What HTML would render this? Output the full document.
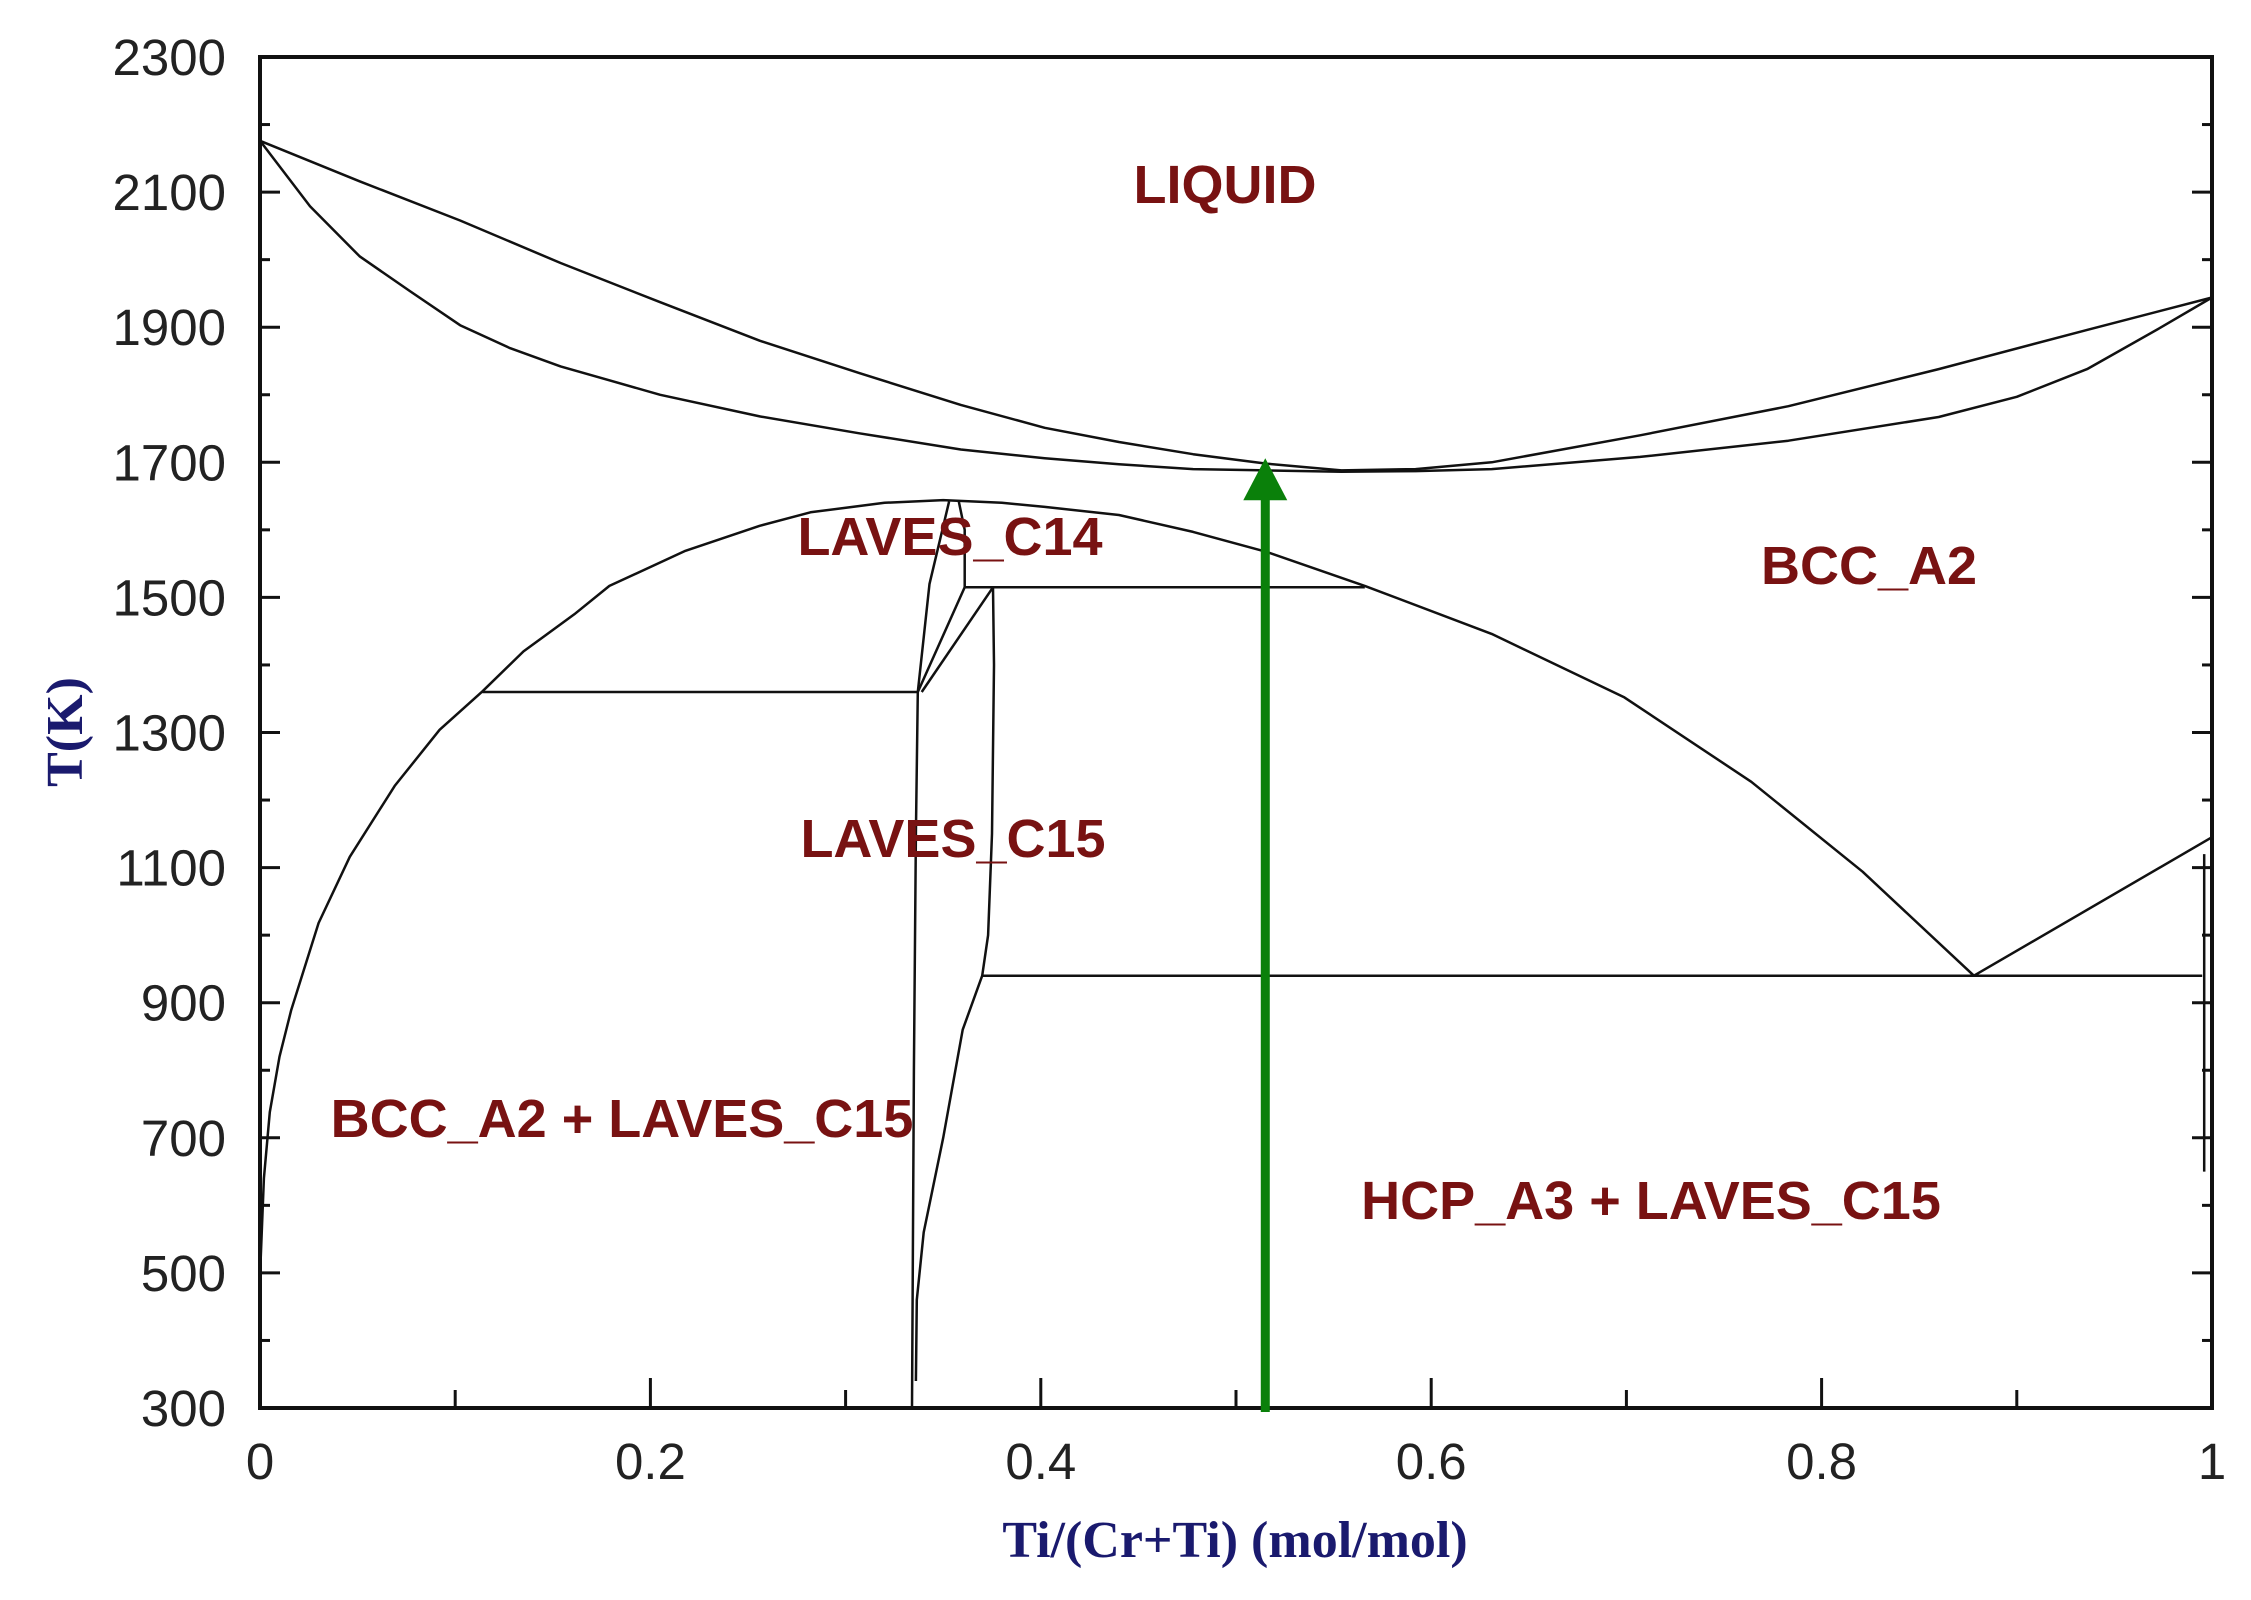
<!DOCTYPE html>
<html><head><meta charset="utf-8"><style>
body{margin:0;background:#fff;}
svg{display:block;}
.tick{font-family:"Liberation Sans",sans-serif;font-size:51px;fill:#222;}
.lab{font-family:"Liberation Sans",sans-serif;font-weight:bold;font-size:54px;fill:#781212;}
.ttl{font-family:"Liberation Serif",serif;font-weight:bold;font-size:52px;fill:#1a1a6e;}
</style></head><body>
<svg id="chart" width="2251" height="1600" xmlns="http://www.w3.org/2000/svg"></svg>
<script>
const xTicks=[0,0.2,0.4,0.6,0.8,1];
const xTickLabels=["0","0.2","0.4","0.6","0.8","1"];
const yTicks=[300,500,700,900,1100,1300,1500,1700,1900,2100,2300];
const liqX=[0,0.051,0.1025,0.154,0.205,0.256,0.307,0.359,0.402,0.44,0.478,0.516,0.554,0.592,0.631,0.707,0.783,0.86,0.936,1];
const liqT=[2176,2116,2058,1995,1937,1880,1832,1785,1751,1730,1712,1698,1688,1690,1700,1740,1783,1838,1896,1944];
const solX=[0,0.0256,0.051,0.077,0.1025,0.128,0.154,0.205,0.256,0.307,0.359,0.402,0.44,0.478,0.516,0.554,0.592,0.631,0.707,0.783,0.86,0.9,0.936,0.974,1];
const solT=[2176,2079,2005,1953,1903,1869,1842,1800,1768,1743,1719,1706,1697,1690,1688,1686,1687,1690,1708,1732,1767,1797,1838,1900,1944];
const domeX=[0,0.002,0.005,0.01,0.016,0.03,0.046,0.069,0.092,0.114,0.135,0.161,0.179,0.218,0.256,0.282,0.32,0.35,0.38,0.402,0.44,0.478,0.516,0.566,0.631,0.699,0.764,0.821,0.878];
const domeT=[495,640,738,820,889,1018,1116,1221,1304,1361,1420,1475,1517,1569,1606,1626,1640,1644,1640,1634,1622,1597,1567,1517,1446,1352,1227,1094,940];
const hcpX=[0.878,1];
const hcpT=[940,1145];
const c15LeftX=[0.334,0.335,0.336,0.337];
const c15LeftT=[300,800,1150,1360];
const c15RightX=[0.336,0.3365,0.34,0.35,0.36,0.37,0.373,0.375,0.376,0.3755];
const c15RightT=[340,460,560,700,860,940,1000,1150,1400,1515];
const c14LeftX=[0.337,0.343,0.353];
const c14LeftT=[1360,1520,1642];
const c14RightX=[0.358,0.361,0.361];
const c14RightT=[1642,1600,1515];
const diag1X=[0.337,0.361];const diag1T=[1360,1515];
const diag2X=[0.339,0.3755];const diag2T=[1360,1515];
const horizX=[[0.114,0.337],[0.361,0.566],[0.37,0.995]];
const horizT=[1360,1515,940];
const rightX=[0.996,0.996];const rightT=[1120,650];
const arrowX=0.515, arrowTop=1706;

const L=260,R=2212,T=57,B=1408;
const sx=v=>L+(R-L)*v;
const sy=v=>B-(v-300)/2000*(B-T);
const svg=document.getElementById('chart');
const NS='http://www.w3.org/2000/svg';
function mk(tag,attrs,parent){const e=document.createElementNS(NS,tag);for(const k in attrs)e.setAttribute(k,attrs[k]);(parent||svg).appendChild(e);return e;}
function line(xs,ts,name){
  const d=xs.map((x,i)=>(i?'L':'M')+sx(x).toFixed(1)+','+sy(ts[i]).toFixed(1)).join('');
  const p=mk('path',{d:d,fill:'none',stroke:'#111','stroke-width':2.5,'stroke-linejoin':'round'});
  
  
}
const fr=mk('rect',{x:L,y:T,width:R-L,height:B-T,fill:'none',stroke:'#111','stroke-width':4});


for(let v=300;v<=2300;v+=100){
  const major=yTicks.includes(v);const len=major?20:10;
  const a=mk('line',{x1:L,x2:L+len,y1:sy(v),y2:sy(v),stroke:'#111','stroke-width':3});
  
  
  const b=mk('line',{x1:R,x2:R-len,y1:sy(v),y2:sy(v),stroke:'#111','stroke-width':3});
  
  
}
yTicks.forEach(v=>{
  const t=mk('text',{x:226,y:sy(v)+18,'text-anchor':'end',class:'tick'});t.textContent=v;
  
  
});
for(let i=0;i<=10;i++){
  const v=i/10;const len=i%2?18:30;
  const a=mk('line',{x1:sx(v),x2:sx(v),y1:B,y2:B-len,stroke:'#111','stroke-width':3});
  
  
}
xTicks.forEach((v,i)=>{
  const t=mk('text',{x:sx(v),y:1479,'text-anchor':'middle',class:'tick'});t.textContent=xTickLabels[i];
  
  
});
line(liqX,liqT,'liquidus-line');
line(solX,solT,'solidus-line');
line(domeX,domeT,'bcc-miscibility-dome');
line(hcpX,hcpT,'hcp-boundary');
line(c15LeftX,c15LeftT,'c15-left-boundary');
line(c15RightX,c15RightT,'c15-right-boundary');
line(c14LeftX,c14LeftT,'c14-left-boundary');
line(c14RightX,c14RightT,'c14-right-boundary');
line(diag1X,diag1T,'c14-c15-boundary-1');
line(diag2X,diag2T,'c14-c15-boundary-2');
horizX.forEach((h,i)=>line(h,[horizT[i],horizT[i]],'invariant-line'));
line(rightX,rightT,'ti-rich-boundary');
const ax=sx(arrowX),ay=sy(arrowTop);
const sh=mk('line',{x1:ax,x2:ax,y1:B+4,y2:ay+40,stroke:'#0a800a','stroke-width':9});


const hd=mk('polygon',{points:`${ax},${ay} ${ax-22},${ay+42} ${ax+22},${ay+42}`,fill:'#0a800a'});


[['LIQUID',1225,203,'label-liquid'],['LAVES_C14',950,555,'label-laves-c14'],['BCC_A2',1869,584,'label-bcc-a2'],
 ['LAVES_C15',953,857,'label-laves-c15'],['BCC_A2 + LAVES_C15',622,1137,'label-bcc-laves-c15'],['HCP_A3 + LAVES_C15',1651,1219,'label-hcp-laves-c15']]
.forEach(a=>{const t=mk('text',{x:a[1],y:a[2],'text-anchor':'middle',class:'lab'});t.textContent=a[0];
  
  });
const yt=mk('text',{x:0,y:0,class:'ttl','text-anchor':'middle',transform:'translate(82,732) rotate(-90)'});yt.textContent='T(K)';


const xt=mk('text',{x:1235,y:1557,class:'ttl','text-anchor':'middle'});xt.textContent='Ti/(Cr+Ti) (mol/mol)';


</script>
</body></html>
